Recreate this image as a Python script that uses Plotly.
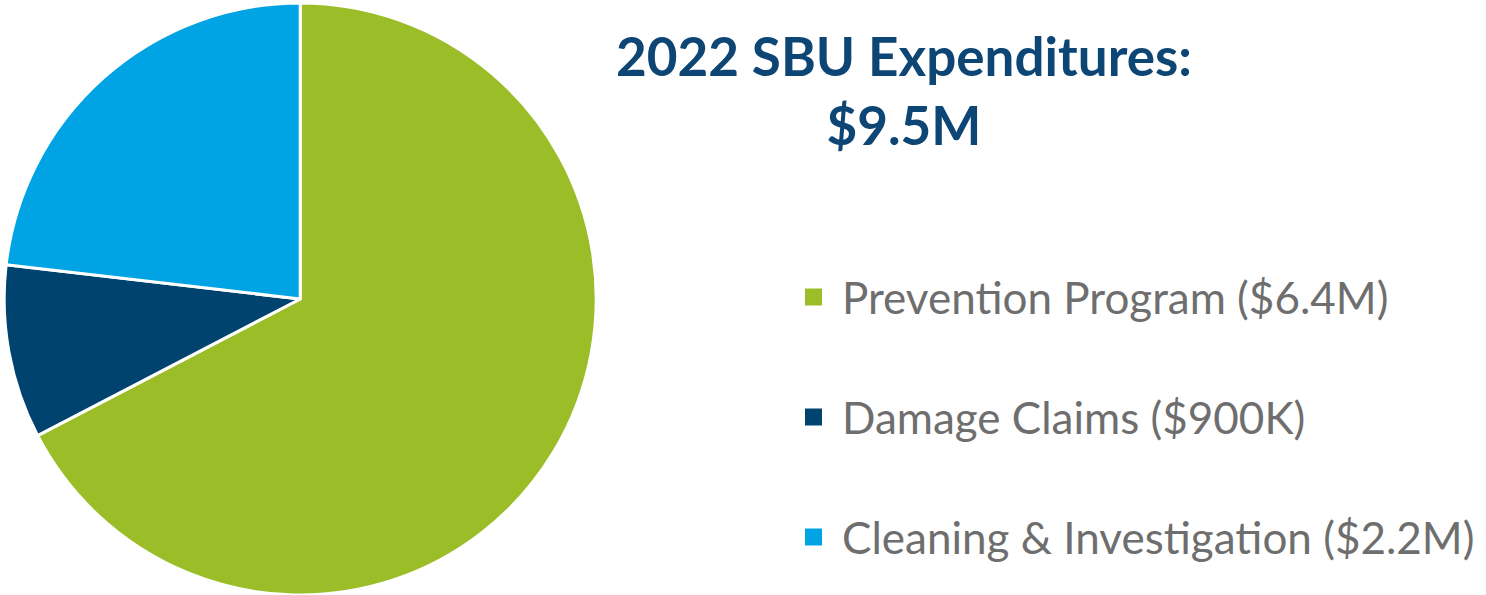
import plotly.graph_objects as go

# data
labels = ["Prevention Program", "Damage Claims", "Cleaning & Investigation"]
values = [6.4, 0.9, 2.2]
amounts = ["$6.4M", "$900K", "$2.2M"]
colors = ["#9BBE28", "#00436E", "#00A3E3"]

title_text = "2022 SBU Expenditures:<br>$9.5M"

W, H = 1486, 595

fig = go.Figure()

fig.add_trace(
    go.Pie(
        labels=labels,
        values=values,
        sort=False,
        direction="clockwise",
        rotation=0,
        marker=dict(colors=colors, line=dict(color="white", width=3)),
        textinfo="none",
        hoverinfo="label+value",
        showlegend=False,
        domain=dict(x=[0.002, 0.402], y=[0, 0.995]),
    )
)

# title
fig.add_annotation(
    xref="paper",
    yref="paper",
    x=904 / W,
    y=1 - 22 / H,
    xanchor="center",
    yanchor="top",
    text=f"<b>{title_text}</b>",
    showarrow=False,
    align="center",
    font=dict(family="Lato", size=53, color="#0D4674"),
)

# legend drawn by hand so the spacing matches
legend_y = [297, 417, 537]
for lab, amt, col, py in zip(labels, amounts, colors, legend_y):
    yp = 1 - py / H
    fig.add_shape(
        type="rect",
        xref="paper",
        yref="paper",
        x0=805 / W,
        x1=822 / W,
        y0=yp - 8.5 / H,
        y1=yp + 8.5 / H,
        fillcolor=col,
        line=dict(width=0),
    )
    fig.add_annotation(
        xref="paper",
        yref="paper",
        x=840 / W,
        y=yp,
        xanchor="left",
        yanchor="middle",
        text=f"{lab} ({amt})",
        showarrow=False,
        font=dict(family="Lato", size=44, color="#6E6E6E"),
    )

fig.update_layout(
    width=W,
    height=H,
    margin=dict(l=0, r=0, t=0, b=0),
    paper_bgcolor="white",
    plot_bgcolor="white",
)

fig.write_html(
    "out.html",
    config={"displayModeBar": False},
    post_script="document.body.style.margin='0px';",
)
